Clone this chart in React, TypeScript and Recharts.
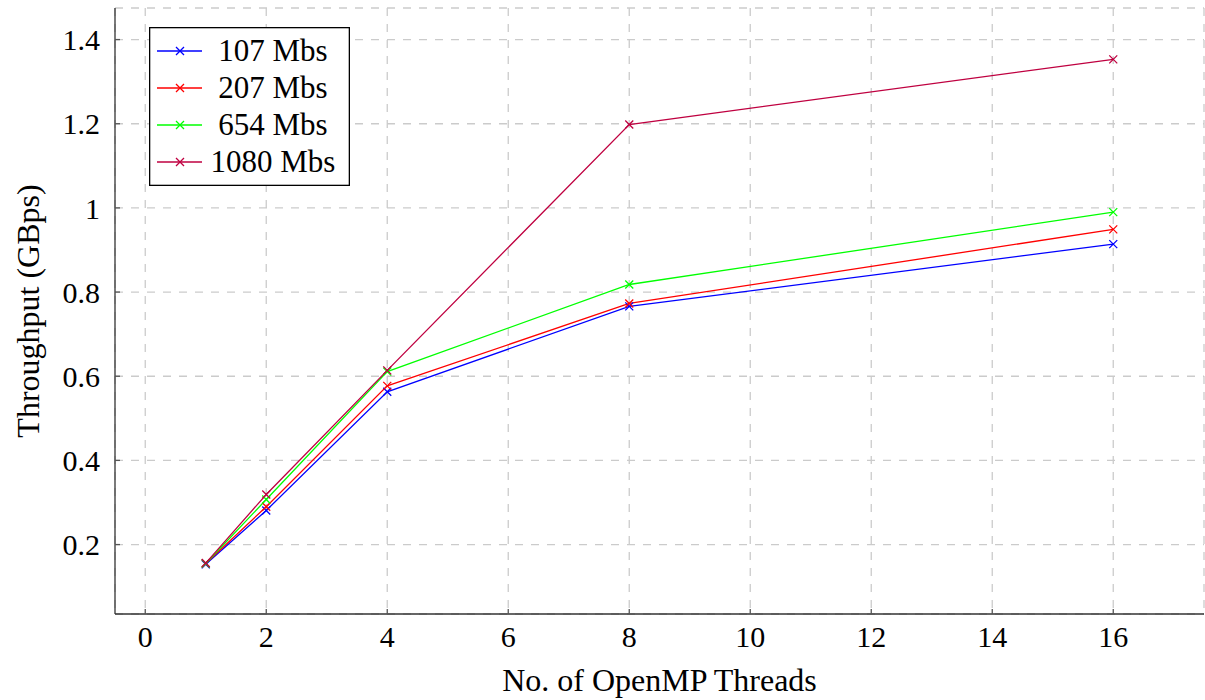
import React from 'react';
import { LineChart, Line, XAxis, YAxis, CartesianGrid, Legend } from 'recharts';

const threads = [1, 2, 4, 8, 16];
const mbs107 = [0.153, 0.281, 0.563, 0.766, 0.914];
const mbs207 = [0.155, 0.290, 0.577, 0.773, 0.949];
const mbs654 = [0.155, 0.307, 0.611, 0.818, 0.990];
const mbs1080 = [0.156, 0.319, 0.614, 1.198, 1.353];
const xTicks = [0, 2, 4, 6, 8, 10, 12, 14, 16];
const yTicks = [0.2, 0.4, 0.6, 0.8, 1.0, 1.2, 1.4];

const seriesNames = ['107 Mbs', '207 Mbs', '654 Mbs', '1080 Mbs'];
const seriesKeys = ['s107', 's207', 's654', 's1080'];
const seriesColors = ['#0000ff', '#ff0000', '#00ff00', '#bf0040'];

const data = threads.map((t, i) => ({
  t,
  s107: mbs107[i],
  s207: mbs207[i],
  s654: mbs654[i],
  s1080: mbs1080[i],
}));

const FONT = 'Liberation Serif, Tinos, DejaVu Serif, serif';
const TICK_LINE = { stroke: '#555', strokeWidth: 1.3 };
const AXIS_LINE = { stroke: '#333', strokeWidth: 1.3 };

const makeCross = (color: string) => (props: any) => {
  const { cx, cy, index } = props;
  if (cx == null || cy == null) return <g key={index} />;
  const r = 4;
  return (
    <path
      key={index}
      d={`M${cx - r},${cy - r}L${cx + r},${cy + r}M${cx - r},${cy + r}L${cx + r},${cy - r}`}
      stroke={color}
      strokeWidth={1.3}
      fill="none"
    />
  );
};

const LegendBox = () => (
  <svg width={201} height={159} style={{ display: 'block' }}>
    <rect x={0.65} y={0.65} width={199.7} height={157.7} fill="#fff" stroke="#000" strokeWidth={1.3} />
    {seriesNames.map((name, i) => {
      const cy = 24 + i * 37;
      const r = 4;
      return (
        <g key={name}>
          <line x1={8} x2={53} y1={cy} y2={cy} stroke={seriesColors[i]} strokeWidth={1.3} />
          <path
            d={`M${31 - r},${cy - r}L${31 + r},${cy + r}M${31 - r},${cy + r}L${31 + r},${cy - r}`}
            stroke={seriesColors[i]}
            strokeWidth={1.3}
            fill="none"
          />
          <text x={124} y={cy + 10} textAnchor="middle" style={{ fontFamily: FONT }} fontSize={31} fill="#000">
            {name}
          </text>
        </g>
      );
    })}
  </svg>
);

const fmt = (v: number) => String(Number(v.toFixed(1)));
const empty = () => '';

export default function App() {
  return (
    <div style={{ position: 'absolute', left: 0, top: 0, background: '#fff', fontFamily: FONT }}>
      <LineChart width={1205} height={700} data={data} margin={{ top: 8, right: 1, left: 0, bottom: 0 }} style={{ fontFamily: FONT }}>
        <CartesianGrid stroke="#cbcbcb" strokeWidth={1.3} strokeDasharray="8 8" />
        <XAxis
          dataKey="t"
          type="number"
          domain={[-0.5, 17.5]}
          ticks={xTicks}
          allowDataOverflow
          height={86}
          tickSize={-5}
          tickMargin={17}
          tickLine={TICK_LINE}
          axisLine={AXIS_LINE}
          tick={{ fontSize: 30, fill: '#000', style: { fontFamily: FONT } }}
          label={{
            value: 'No. of OpenMP Threads',
            position: 'insideBottom',
            offset: 9,
            style: { fontFamily: FONT, fontSize: 32, fill: '#000' },
          }}
        />
        <XAxis
          xAxisId="top"
          orientation="top"
          dataKey="t"
          type="number"
          domain={[-0.5, 17.5]}
          ticks={xTicks}
          allowDataOverflow
          height={0}
          tickSize={-5}
          tickFormatter={empty}
          tickLine={TICK_LINE}
          axisLine={AXIS_LINE}
        />
        <YAxis
          type="number"
          domain={[0.035, 1.475]}
          ticks={yTicks}
          allowDataOverflow
          width={115}
          tickSize={-5}
          tickMargin={20}
          tickLine={TICK_LINE}
          tickFormatter={fmt}
          axisLine={AXIS_LINE}
          tick={{ fontSize: 30, fill: '#000', style: { fontFamily: FONT } }}
          label={{
            value: 'Throughput (GBps)',
            angle: -90,
            position: 'center',
            dx: -30,
            style: { fontFamily: FONT, fontSize: 32, fill: '#000', textAnchor: 'middle' },
          }}
        />
        <YAxis
          yAxisId="right"
          orientation="right"
          type="number"
          domain={[0.035, 1.475]}
          ticks={yTicks}
          allowDataOverflow
          width={0}
          tickSize={-5}
          tickFormatter={empty}
          tickLine={TICK_LINE}
          axisLine={AXIS_LINE}
        />
        <Legend
          layout="vertical"
          align="center"
          verticalAlign="middle"
          wrapperStyle={{ position: 'absolute', left: 149, top: 27, width: 201, height: 159 }}
          content={() => <LegendBox />}
        />
        {seriesKeys.map((k, i) => (
          <Line
            key={k}
            dataKey={k}
            name={seriesNames[i]}
            type="linear"
            stroke={seriesColors[i]}
            strokeWidth={1.3}
            dot={makeCross(seriesColors[i])}
            activeDot={false}
            isAnimationActive={false}
          />
        ))}
      </LineChart>
    </div>
  );
}
